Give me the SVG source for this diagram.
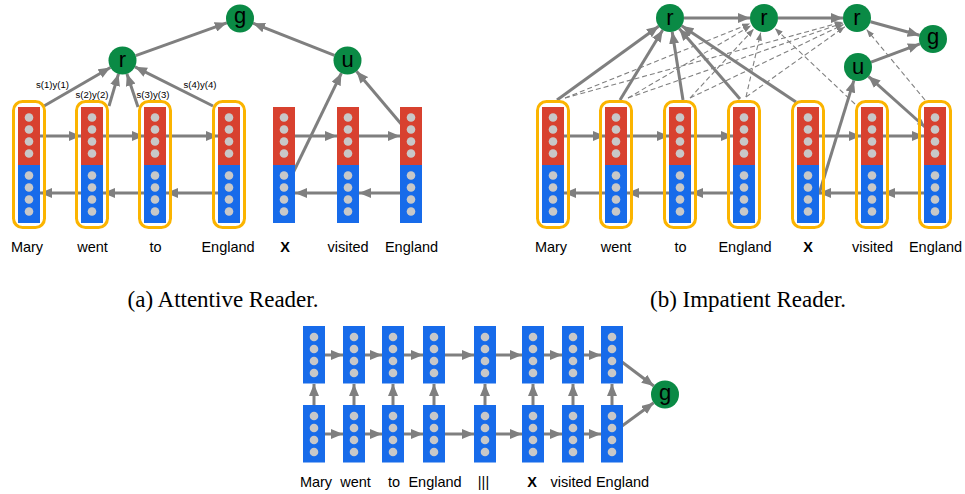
<svg xmlns="http://www.w3.org/2000/svg" xmlns:xlink="http://www.w3.org/1999/xlink" width="965" height="494" viewBox="0 0 965 494">
<style>
.red{fill:#d8412f}
.blue{fill:#176bea}
.dot{fill:#c8c8c8}
.ring{fill:none;stroke:#fbb400;stroke-width:3}
.node{fill:#0a8a45}
.nt{font-family:"Liberation Sans",Arial,sans-serif;font-size:22px;fill:#000;text-anchor:middle}
.lbl{font-family:"Liberation Sans",Arial,sans-serif;font-size:14.5px;fill:#000;text-anchor:middle}
.bx{font-weight:bold}
.el{font-family:"Liberation Sans",Arial,sans-serif;font-size:9.6px;fill:#000;text-anchor:middle}
.cap{font-family:"Liberation Serif","Times New Roman",serif;font-size:23px;fill:#000;text-anchor:middle}
.a{stroke:#7f7f7f;stroke-width:3;fill:none;marker-end:url(#ah)}
.d{stroke:#808080;stroke-width:1.1;fill:none;stroke-dasharray:5 3;marker-end:url(#dh)}
</style>
<defs>
<marker id="ah" markerUnits="userSpaceOnUse" markerWidth="12" markerHeight="10" refX="12" refY="5" orient="auto"><path d="M0,0 L12,5 L0,10 z" fill="#7f7f7f"/></marker>
<marker id="ahs" markerUnits="userSpaceOnUse" markerWidth="8" markerHeight="7" refX="0" refY="3.5" orient="auto"><path d="M8,0 L0,3.5 L8,7 z" fill="#7f7f7f"/></marker>
<marker id="dh" markerUnits="userSpaceOnUse" markerWidth="8" markerHeight="6" refX="8" refY="3" orient="auto"><path d="M0,0 L8,3 L0,6 z" fill="#808080"/></marker>
<g id="col2">
<rect class="red" x="-11" y="0" width="22" height="58"/>
<rect class="blue" x="-11" y="58" width="22" height="58"/>
<circle class="dot" cx="0" cy="10.5" r="4.3"/><circle class="dot" cx="0" cy="22.5" r="4.3"/><circle class="dot" cx="0" cy="34.5" r="4.3"/><circle class="dot" cx="0" cy="46.5" r="4.3"/>
<circle class="dot" cx="0" cy="68.5" r="4.3"/><circle class="dot" cx="0" cy="80.5" r="4.3"/><circle class="dot" cx="0" cy="92.5" r="4.3"/><circle class="dot" cx="0" cy="104.5" r="4.3"/>
</g>
<g id="col1">
<rect class="blue" x="-11" y="0" width="22" height="57.5"/>
<circle class="dot" cx="0" cy="11" r="4.3"/><circle class="dot" cx="0" cy="23" r="4.3"/><circle class="dot" cx="0" cy="35" r="4.3"/><circle class="dot" cx="0" cy="47" r="4.3"/>
</g>
<rect id="ring" class="ring" x="-15.5" y="101.5" width="31" height="126" rx="9"/>
</defs>
<rect width="965" height="494" fill="#fff"/>

<!-- Panel (a) -->
<g id="a-connectors">
<line class="a" x1="39" y1="136" x2="81" y2="136"/>
<line class="a" x1="102" y1="136" x2="144" y2="136"/>
<line class="a" x1="165" y1="136" x2="218" y2="136"/>
<line class="a" x1="294" y1="136" x2="337" y2="136"/>
<line class="a" x1="358" y1="136" x2="400" y2="136"/>
<line class="a" x1="81" y1="193" x2="40" y2="193"/>
<line class="a" x1="144" y1="193" x2="103" y2="193"/>
<line class="a" x1="218" y1="193" x2="166" y2="193"/>
<line class="a" x1="337" y1="193" x2="295" y2="193"/>
<line class="a" x1="400" y1="193" x2="359" y2="193"/>
<line class="a" x1="44" y1="106" x2="110.4" y2="67.5"/>
<line class="a" x1="109" y1="106" x2="118.5" y2="73.9"/>
<line class="a" x1="138" y1="107" x2="126.9" y2="73.8"/>
<line class="a" x1="213" y1="106" x2="135" y2="66.8"/>
<line class="a" x1="135.7" y1="55.7" x2="226.8" y2="22.8"/>
<line class="a" x1="334.5" y1="55.4" x2="253" y2="23.2"/>
<line class="a" x1="293" y1="173" x2="341.4" y2="73.1"/>
<line class="a" x1="402" y1="125" x2="356.5" y2="71.2"/>
<text class="el" x="52.5" y="88">s(1)y(1)</text>
<text class="el" x="92" y="98">s(2)y(2)</text>
<text class="el" x="153" y="98">s(3)y(3)</text>
<text class="el" x="200" y="88">s(4)y(4)</text>
</g>
<g id="a-mary"><use xlink:href="#ring" x="29"/><use xlink:href="#col2" x="29" y="107"/><text class="lbl" x="27" y="252">Mary</text></g>
<g id="a-went"><use xlink:href="#ring" x="92"/><use xlink:href="#col2" x="92" y="107"/><text class="lbl" x="92.5" y="252">went</text></g>
<g id="a-to"><use xlink:href="#ring" x="155"/><use xlink:href="#col2" x="155" y="107"/><text class="lbl" x="155.5" y="252">to</text></g>
<g id="a-england"><use xlink:href="#ring" x="229"/><use xlink:href="#col2" x="229" y="107"/><text class="lbl" x="228" y="252">England</text></g>
<g id="a-x"><use xlink:href="#col2" x="284" y="107"/><text class="lbl bx" x="285" y="252">X</text></g>
<g id="a-visited"><use xlink:href="#col2" x="348" y="107"/><text class="lbl" x="348" y="252">visited</text></g>
<g id="a-england2"><use xlink:href="#col2" x="411" y="107"/><text class="lbl" x="411.5" y="252">England</text></g>
<g id="a-r"><circle class="node" cx="122.5" cy="60.5" r="14"/><text class="nt" x="122.5" y="67">r</text></g>
<g id="a-g"><circle class="node" cx="240" cy="18.5" r="14"/><text class="nt" x="240" y="23">g</text></g>
<g id="a-u"><circle class="node" cx="347.5" cy="60.5" r="14"/><text class="nt" x="347.5" y="67">u</text></g>
<text class="cap" x="223" y="307">(a) Attentive Reader.</text>

<!-- Panel (b) -->
<g id="b-connectors">
<line class="a" x1="563" y1="136" x2="605" y2="136"/>
<line class="a" x1="626" y1="136" x2="669" y2="136"/>
<line class="a" x1="690" y1="136" x2="733" y2="136"/>
<line class="a" x1="818" y1="136" x2="861" y2="136"/>
<line class="a" x1="882" y1="136" x2="924" y2="136"/>
<line class="a" x1="605" y1="193" x2="564" y2="193"/>
<line class="a" x1="669" y1="193" x2="627" y2="193"/>
<line class="a" x1="733" y1="193" x2="691" y2="193"/>
<line class="a" x1="861" y1="193" x2="819" y2="193"/>
<line class="a" x1="924" y1="193" x2="883" y2="193"/>
<line class="d" x1="565" y1="98" x2="750.1" y2="23.6"/>
<line class="d" x1="565" y1="98" x2="842.5" y2="22"/>
<line class="d" x1="628" y1="98" x2="751.1" y2="25.6"/>
<line class="d" x1="628" y1="98" x2="842.8" y2="23"/>
<line class="d" x1="690" y1="98" x2="753.8" y2="29"/>
<line class="d" x1="690" y1="98" x2="843.5" y2="24.5"/>
<line class="d" x1="746" y1="97" x2="760.7" y2="32.6"/>
<line class="d" x1="746" y1="97" x2="844.8" y2="26.7"/>
<line class="d" x1="855" y1="104" x2="774.9" y2="28.3"/>
<line class="d" x1="925" y1="100" x2="866.6" y2="29.5"/>
<line class="a" x1="557" y1="100" x2="658.7" y2="26.2"/>
<line class="a" x1="620" y1="100" x2="662.7" y2="30"/>
<line class="a" x1="683" y1="100" x2="672.2" y2="31.8"/>
<line class="a" x1="740" y1="99" x2="679.2" y2="28.6"/>
<line class="a" x1="796" y1="102" x2="681.6" y2="25.8"/>
<line class="a" x1="684" y1="18" x2="750" y2="18"/>
<line class="a" x1="778" y1="18" x2="843" y2="18"/>
<line class="a" x1="870.5" y1="21.7" x2="919.5" y2="35.3"/>
<line class="a" x1="871.1" y1="62.1" x2="919.9" y2="43.9"/>
<line class="a" x1="819" y1="194" x2="853.9" y2="80.4"/>
<line class="a" x1="925" y1="127" x2="868.4" y2="76.3" style="marker-start:url(#ahs)"/>
</g>
<g id="b-mary"><use xlink:href="#ring" x="553"/><use xlink:href="#col2" x="553" y="107"/><text class="lbl" x="551" y="252">Mary</text></g>
<g id="b-went"><use xlink:href="#ring" x="616"/><use xlink:href="#col2" x="616" y="107"/><text class="lbl" x="616" y="252">went</text></g>
<g id="b-to"><use xlink:href="#ring" x="680"/><use xlink:href="#col2" x="680" y="107"/><text class="lbl" x="680.5" y="252">to</text></g>
<g id="b-england"><use xlink:href="#ring" x="744"/><use xlink:href="#col2" x="744" y="107"/><text class="lbl" x="745" y="252">England</text></g>
<g id="b-x"><use xlink:href="#ring" x="808"/><use xlink:href="#col2" x="808" y="107"/><text class="lbl bx" x="808" y="252">X</text></g>
<g id="b-visited"><use xlink:href="#ring" x="872"/><use xlink:href="#col2" x="872" y="107"/><text class="lbl" x="872.5" y="252">visited</text></g>
<g id="b-england2"><use xlink:href="#ring" x="935"/><use xlink:href="#col2" x="935" y="107"/><text class="lbl" x="935.5" y="252">England</text></g>
<g id="b-r1"><circle class="node" cx="670" cy="18" r="14"/><text class="nt" x="670" y="24.5">r</text></g>
<g id="b-r2"><circle class="node" cx="764" cy="18" r="14"/><text class="nt" x="764" y="24.5">r</text></g>
<g id="b-r3"><circle class="node" cx="857" cy="18" r="14"/><text class="nt" x="857" y="24.5">r</text></g>
<g id="b-g"><circle class="node" cx="933" cy="39" r="14"/><text class="nt" x="933" y="44">g</text></g>
<g id="b-u"><circle class="node" cx="858" cy="67" r="14"/><text class="nt" x="858" y="73.5">u</text></g>
<text class="cap" x="748" y="307">(b) Impatient Reader.</text>

<!-- Panel (c) -->
<g id="c-connectors">
<line class="a" x1="324" y1="355" x2="343" y2="355"/>
<line class="a" x1="364" y1="355" x2="382" y2="355"/>
<line class="a" x1="403" y1="355" x2="423" y2="355"/>
<line class="a" x1="444" y1="355" x2="474" y2="355"/>
<line class="a" x1="495" y1="355" x2="522" y2="355"/>
<line class="a" x1="543" y1="355" x2="562" y2="355"/>
<line class="a" x1="583" y1="355" x2="601" y2="355"/>
<line class="a" x1="324" y1="434" x2="343" y2="434"/>
<line class="a" x1="364" y1="434" x2="382" y2="434"/>
<line class="a" x1="403" y1="434" x2="423" y2="434"/>
<line class="a" x1="444" y1="434" x2="474" y2="434"/>
<line class="a" x1="495" y1="434" x2="522" y2="434"/>
<line class="a" x1="543" y1="434" x2="562" y2="434"/>
<line class="a" x1="583" y1="434" x2="601" y2="434"/>
<line class="a" x1="314" y1="406" x2="314" y2="384"/>
<line class="a" x1="354" y1="406" x2="354" y2="384"/>
<line class="a" x1="393" y1="406" x2="393" y2="384"/>
<line class="a" x1="434" y1="406" x2="434" y2="384"/>
<line class="a" x1="485" y1="406" x2="485" y2="384"/>
<line class="a" x1="533" y1="406" x2="533" y2="384"/>
<line class="a" x1="573" y1="406" x2="573" y2="384"/>
<line class="a" x1="612" y1="406" x2="612" y2="384"/>
<line class="a" x1="622" y1="362" x2="653.8" y2="386"/>
<line class="a" x1="622" y1="426" x2="653.7" y2="402.8"/>
</g>
<g id="c-mary"><use xlink:href="#col1" x="314" y="326"/><use xlink:href="#col1" x="314" y="405"/><text class="lbl" x="316" y="487">Mary</text></g>
<g id="c-went"><use xlink:href="#col1" x="354" y="326"/><use xlink:href="#col1" x="354" y="405"/><text class="lbl" x="355.5" y="487">went</text></g>
<g id="c-to"><use xlink:href="#col1" x="393" y="326"/><use xlink:href="#col1" x="393" y="405"/><text class="lbl" x="394" y="487">to</text></g>
<g id="c-england"><use xlink:href="#col1" x="434" y="326"/><use xlink:href="#col1" x="434" y="405"/><text class="lbl" x="435" y="487">England</text></g>
<g id="c-sep"><use xlink:href="#col1" x="485" y="326"/><use xlink:href="#col1" x="485" y="405"/><text class="lbl" x="483.5" y="487">|||</text></g>
<g id="c-x"><use xlink:href="#col1" x="533" y="326"/><use xlink:href="#col1" x="533" y="405"/><text class="lbl bx" x="532" y="487">X</text></g>
<g id="c-visited"><use xlink:href="#col1" x="573" y="326"/><use xlink:href="#col1" x="573" y="405"/><text class="lbl" x="571" y="487">visited</text></g>
<g id="c-england2"><use xlink:href="#col1" x="612" y="326"/><use xlink:href="#col1" x="612" y="405"/><text class="lbl" x="622.5" y="487">England</text></g>
<g id="c-g"><circle class="node" cx="665" cy="394.5" r="14"/><text class="nt" x="665" y="399.5">g</text></g>
</svg>
